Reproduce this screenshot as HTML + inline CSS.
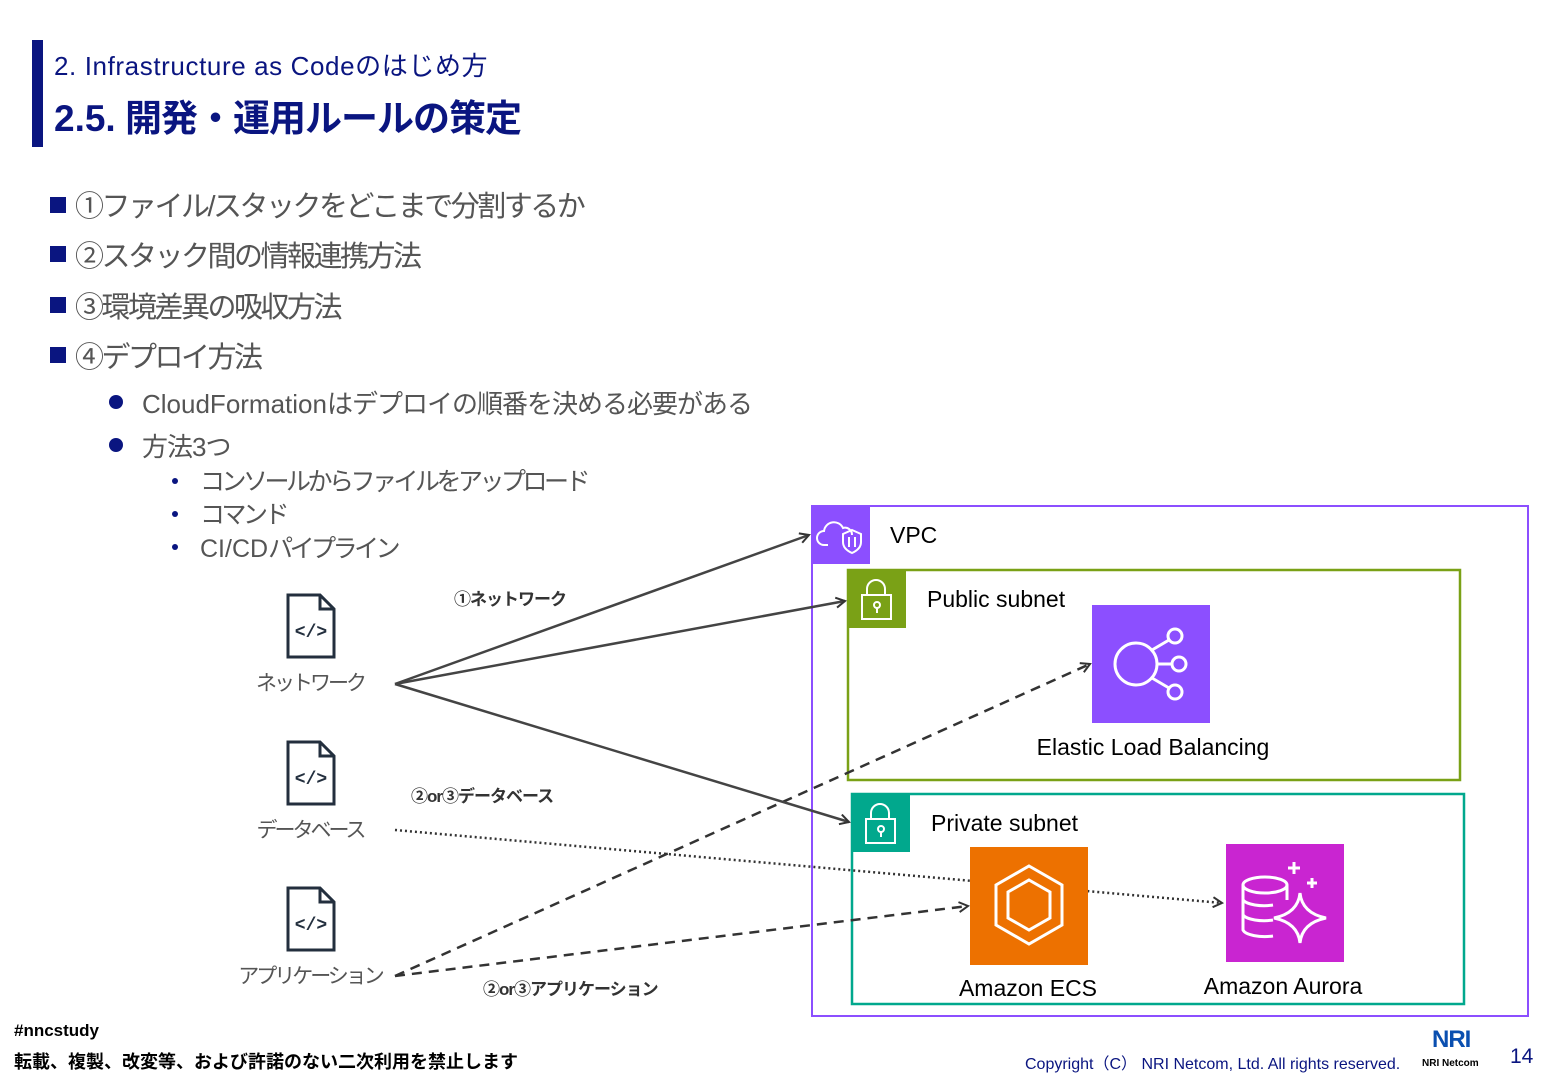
<!DOCTYPE html>
<html><head><meta charset="utf-8"><style>
body{margin:0;width:1560px;height:1080px;background:#fff;position:relative;overflow:hidden;font-family:"Liberation Sans","Noto Sans CJK JP",sans-serif;}
.a{position:absolute;white-space:nowrap;}
.b1{font-size:29px;color:#555;letter-spacing:-2.5px;}
.sq{position:absolute;width:16px;height:16px;background:#0a1580;}
.b2{font-size:26px;color:#555;letter-spacing:-1px;}
.dot{position:absolute;width:14px;height:14px;border-radius:50%;background:#0a1580;}
.b3{font-size:25px;color:#555;letter-spacing:-3.5px;}
.sd{position:absolute;width:6px;height:6px;border-radius:50%;background:#0a1580;}
.l{letter-spacing:0}
</style></head><body>
<div class="a" style="left:32px;top:40px;width:11px;height:107px;background:#0a1580"></div>
<div class="a" style="left:54px;top:46px;font-size:26px;color:#0a1580;letter-spacing:0.6px">2. Infrastructure as Codeのはじめ方</div>
<div class="a" style="left:54px;top:88px;font-size:37px;font-weight:bold;color:#0a1580;letter-spacing:-1px"><span class="l">2.5.</span> 開発・運用ルールの策定</div>

<div class="sq" style="left:50px;top:197px"></div><div class="a b1" style="left:75px;top:183px">①ファイル/スタックをどこまで分割するか</div>
<div class="sq" style="left:50px;top:246px"></div><div class="a b1" style="left:75px;top:233px">②スタック間の情報連携方法</div>
<div class="sq" style="left:50px;top:297px"></div><div class="a b1" style="left:75px;top:284px">③環境差異の吸収方法</div>
<div class="sq" style="left:50px;top:347px"></div><div class="a b1" style="left:75px;top:334px">④デプロイ方法</div>
<div class="dot" style="left:109px;top:395px"></div><div class="a b2" style="left:142px;top:384px"><span class="l">CloudFormation</span>はデプロイの順番を決める必要がある</div>
<div class="dot" style="left:109px;top:438px"></div><div class="a b2" style="left:142px;top:427px">方法3つ</div>
<div class="sd" style="left:172px;top:478px"></div><div class="a b3" style="left:200px;top:462px">コンソールからファイルをアップロード</div>
<div class="sd" style="left:172px;top:511px"></div><div class="a b3" style="left:200px;top:495px">コマンド</div>
<div class="sd" style="left:172px;top:544px"></div><div class="a b3" style="left:200px;top:529px"><span class="l">CI/CD</span>パイプライン</div>

<svg class="a" style="left:0;top:0" width="1560" height="1080" viewBox="0 0 1560 1080">
<defs>
<marker id="ar" markerWidth="12" markerHeight="12" refX="10" refY="6" orient="auto" markerUnits="userSpaceOnUse"><path d="M1,1 L10,6 L1,11" fill="none" stroke="#333" stroke-width="2"/></marker>
<g id="file"><path d="M0,0 H32 L46,14 V62 H0 Z" fill="none" stroke="#232f3e" stroke-width="3"/><path d="M32,0 V14 H46" fill="none" stroke="#232f3e" stroke-width="3"/><text x="23" y="42" font-size="18" font-weight="bold" text-anchor="middle" fill="#232f3e" font-family="Liberation Mono">&lt;/&gt;</text></g>
</defs>
<rect x="812" y="506" width="716" height="510" fill="none" stroke="#8c4fff" stroke-width="2"/>
<rect x="811" y="505" width="59" height="59" fill="#8c4fff"/>
<g fill="none" stroke="#fff" stroke-width="2"><path d="M828,545 h-4 a7,7 0 0 1 0,-14 a10,10 0 0 1 19,-3 a7,7 0 0 1 9,7"/><path d="M852,530 l9,4 v8 q0,7 -9,11 q-9,-4 -9,-11 v-8 z"/><path d="M849,537 v10 M855,537 v10"/></g>
<text x="890" y="543" font-size="23" fill="#000">VPC</text>
<rect x="848" y="570" width="612" height="210" fill="none" stroke="#7aa116" stroke-width="2.5"/>
<rect x="847" y="569" width="59" height="59" fill="#7aa116"/>
<g fill="none" stroke="#fff" stroke-width="2"><rect x="862" y="595" width="29" height="24"/><path d="M867,595 v-6 a9,9 0 0 1 18,0 v6"/><circle cx="877" cy="605" r="3"/><path d="M877,608 v5"/></g>
<text x="927" y="607" font-size="23" fill="#000">Public subnet</text>
<rect x="852" y="794" width="612" height="210" fill="none" stroke="#01a88d" stroke-width="2.5"/>
<rect x="851" y="793" width="59" height="59" fill="#01a88d"/>
<g fill="none" stroke="#fff" stroke-width="2"><rect x="866" y="819" width="29" height="24"/><path d="M871,819 v-6 a9,9 0 0 1 18,0 v6"/><circle cx="881" cy="829" r="3"/><path d="M881,832 v5"/></g>
<text x="931" y="831" font-size="23" fill="#000">Private subnet</text>

<line x1="395" y1="830" x2="1222" y2="903" stroke="#333" stroke-width="2.5" stroke-dasharray="2,3" marker-end="url(#ar)"/>
<line x1="395" y1="976" x2="1090" y2="664" stroke="#333" stroke-width="2.5" stroke-dasharray="10,7" marker-end="url(#ar)"/>
<line x1="395" y1="976" x2="968" y2="906" stroke="#333" stroke-width="2.5" stroke-dasharray="10,7" marker-end="url(#ar)"/>
<line x1="395" y1="684" x2="809" y2="535" stroke="#444" stroke-width="2.5" marker-end="url(#ar)"/>
<line x1="395" y1="684" x2="845" y2="601" stroke="#444" stroke-width="2.5" marker-end="url(#ar)"/>
<line x1="395" y1="684" x2="849" y2="822" stroke="#444" stroke-width="2.5" marker-end="url(#ar)"/>

<rect x="1092" y="605" width="118" height="118" fill="#8c4fff"/>
<g fill="none" stroke="#fff" stroke-width="3"><circle cx="1136" cy="664" r="21"/><circle cx="1175" cy="636" r="7"/><circle cx="1179" cy="664" r="7"/><circle cx="1175" cy="692" r="7"/><path d="M1152,650 L1169,640 M1157,664 H1172 M1152,678 L1169,688"/></g>
<text x="1153" y="755" font-size="23" text-anchor="middle" fill="#000">Elastic Load Balancing</text>
<rect x="970" y="847" width="118" height="118" fill="#ed7100"/>
<g fill="none" stroke="#fff" stroke-width="3"><path d="M1029,866 L1062,885 V925 L1029,944 L996,925 V885 Z"/><path d="M1029,880 L1050,892 V918 L1029,930 L1008,918 V892 Z"/></g>
<text x="1028" y="996" font-size="23" text-anchor="middle" fill="#000">Amazon ECS</text>
<rect x="1226" y="844" width="118" height="118" fill="#c925d1"/>
<g fill="none" stroke="#fff" stroke-width="3"><ellipse cx="1265" cy="885" rx="22" ry="8"/><path d="M1243,885 V930 a22,8 0 0 0 30,6 M1243,900 a22,8 0 0 0 30,5 M1243,915 a22,8 0 0 0 30,5 M1287,885 V900"/><path d="M1300,893 q2,20 26,25 q-24,5 -26,25 q-2,-20 -26,-25 q24,-5 26,-25z"/><path d="M1294,862 v12 M1288,868 h12 M1312,878 v10 M1307,883 h10"/></g>
<text x="1283" y="994" font-size="23" text-anchor="middle" fill="#000">Amazon Aurora</text>

<use href="#file" x="288" y="595"/>
<use href="#file" x="288" y="742"/>
<use href="#file" x="288" y="888"/>
<g font-size="21" fill="#555" text-anchor="middle" letter-spacing="-3" font-family="Liberation Sans,Noto Sans CJK JP,sans-serif">
<text x="310" y="690">ネットワーク</text>
<text x="310" y="837">データベース</text>
<text x="310" y="983">アプリケーション</text></g>
<g font-size="17" fill="#333" font-weight="bold" letter-spacing="-1" font-family="Liberation Sans,Noto Sans CJK JP,sans-serif">
<text x="454" y="605">①ネットワーク</text>
<text x="411" y="802">②or③データベース</text>
<text x="483" y="995">②or③アプリケーション</text></g>
</svg>

<div class="a" style="left:14px;top:1021px;font-size:17px;font-weight:bold;color:#000">#nncstudy</div>
<div class="a" style="left:14px;top:1048px;font-size:18px;font-weight:bold;color:#000">転載、複製、改変等、および許諾のない二次利用を禁止します</div>
<div class="a" style="left:1025px;top:1050px;font-size:16px;color:#0a1580">Copyright（C） NRI Netcom, Ltd. All rights reserved.</div>
<div class="a" style="left:1432px;top:1026px;font-size:24px;font-weight:bold;color:#0a4fb0;letter-spacing:-1px">NRI</div>
<div class="a" style="left:1422px;top:1058px;font-size:10px;font-weight:bold;color:#000">NRI Netcom</div>
<div class="a" style="left:1510px;top:1045px;font-size:21px;color:#0a1580">14</div>
</body></html>
